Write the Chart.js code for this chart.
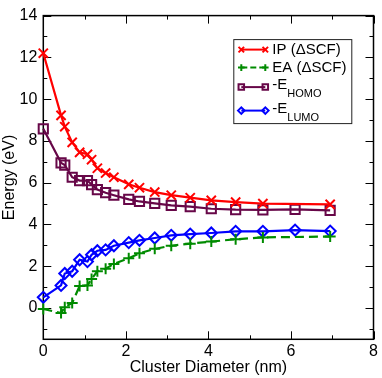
<!DOCTYPE html>
<html>
<head>
<meta charset="utf-8">
<script src="https://cdn.jsdelivr.net/npm/chart.js@4"></script>
<style>
  html, body { margin: 0; padding: 0; background: #fff; }
  #wrap { width: 382px; height: 378px; }
</style>
</head>
<body>
<div id="wrap"><canvas id="energyChart" width="382" height="378"></canvas></div>
<script>
// cluster diameters (nm) for the delta-SCF series
const diameters = [0, 0.43, 0.52, 0.70, 0.88, 1.07, 1.17, 1.31, 1.51, 1.71, 2.07, 2.33, 2.70, 3.10, 3.56, 4.07, 4.66, 5.32, 6.95];
// orbital series have one extra cluster at 6.1 nm
const diametersOrb = [0, 0.43, 0.52, 0.70, 0.88, 1.07, 1.17, 1.31, 1.51, 1.71, 2.07, 2.33, 2.70, 3.10, 3.56, 4.07, 4.66, 5.32, 6.10, 6.95];

const ipVals   = [12.2, 9.22, 8.68, 7.93, 7.45, 7.36, 7.10, 6.69, 6.46, 6.26, 5.92, 5.76, 5.55, 5.40, 5.28, 5.15, 5.07, 5.00, 4.96];
const eaVals   = [-0.05, -0.24, 0.04, 0.24, 1.05, 1.08, 1.39, 1.76, 1.88, 2.11, 2.38, 2.62, 2.83, 2.98, 3.08, 3.18, 3.29, 3.38, 3.42];
const homoVals = [8.58, 6.95, 6.84, 6.26, 6.10, 6.10, 5.91, 5.67, 5.52, 5.40, 5.20, 5.10, 5.01, 4.91, 4.85, 4.75, 4.71, 4.70, 4.72, 4.67];
const lumoVals = [0.51, 1.08, 1.65, 1.76, 2.31, 2.22, 2.55, 2.74, 2.78, 2.98, 3.13, 3.24, 3.35, 3.48, 3.54, 3.59, 3.67, 3.67, 3.73, 3.68];

const xTicks = [0, 2, 4, 6, 8];
const yTicks = [0, 2, 4, 6, 8, 10, 12, 14];

const RED = '#ff0000', GREEN = '#008b00', MAROON = '#670748', BLUE = '#0000ff';
const FONT = '"Liberation Sans", Arial, sans-serif';

function pts(xs, ys) {
    return xs.map((x, i) => ({ x: x, y: ys[i] }));
}

const series = [
    { label: 'IP (\u0394SCF)', sub: '', color: RED, style: 'crossRot', radius: 6.5, dash: [], data: pts(diameters, ipVals) },
    { label: 'EA (\u0394SCF)', sub: '', color: GREEN, style: 'cross', radius: 5.5, dash: [9, 5], data: pts(diameters, eaVals) },
    { label: '-E', sub: 'HOMO', color: MAROON, style: 'rect', radius: 6.5, dash: [], data: pts(diametersOrb, homoVals) },
    { label: '-E', sub: 'LUMO', color: BLUE, style: 'rectRot', radius: 5.5, dash: [], data: pts(diametersOrb, lumoVals) }
];

// frame with inward ticks on all four sides
const framePlugin = {
    id: 'frame',
    beforeDatasetsDraw(chart) {
        const { ctx, chartArea: a, scales } = chart;
        ctx.save();
        ctx.strokeStyle = '#000';
        ctx.lineWidth = 1;
        for (let v = 0; v <= 8; v += 1) {
            const px = Math.round(scales.x.getPixelForValue(v)) + 0.5;
            const len = v % 2 === 0 ? 8 : 4;
            ctx.beginPath();
            ctx.moveTo(px, a.bottom); ctx.lineTo(px, a.bottom - len);
            ctx.moveTo(px, a.top); ctx.lineTo(px, a.top + len);
            ctx.stroke();
        }
        for (let v = -1; v <= 14; v += 1) {
            const py = Math.round(scales.y.getPixelForValue(v)) + 0.5;
            const len = v % 2 === 0 ? 8 : 4;
            ctx.beginPath();
            ctx.moveTo(a.left, py); ctx.lineTo(a.left + len, py);
            ctx.moveTo(a.right, py); ctx.lineTo(a.right - len, py);
            ctx.stroke();
        }
        ctx.lineWidth = 1.5;
        ctx.strokeRect(a.left, a.top, a.right - a.left, a.bottom - a.top);
        ctx.restore();
    }
};

// legend box with line samples and subscripts
const legendPlugin = {
    id: 'boxLegend',
    afterDraw(chart) {
        const { ctx, chartArea: a } = chart;
        const bx = a.left + 190, by = a.top + 23.5, bw = 118, bh = 84;
        ctx.save();
        ctx.fillStyle = '#fff';
        ctx.fillRect(bx, by, bw, bh);
        ctx.strokeStyle = '#222';
        ctx.lineWidth = 1;
        ctx.strokeRect(bx + 0.5, by + 0.5, bw, bh);
        const rows = [10.5, 28.5, 48, 71.5];
        series.forEach((s, i) => {
            const y = by + rows[i];
            const x0 = bx + 8, x1 = bx + 32;
            ctx.strokeStyle = s.color;
            ctx.lineWidth = 2;
            ctx.setLineDash(s.dash.length ? [6, 3] : []);
            ctx.beginPath(); ctx.moveTo(x0, y); ctx.lineTo(x1, y); ctx.stroke();
            ctx.setLineDash([]);
            const opts = { pointStyle: s.style, radius: s.radius * 0.6, borderWidth: 2 };
            ctx.fillStyle = 'rgba(0,0,0,0)';
            [x0, x1].forEach(px => Chart.helpers.drawPoint(ctx, opts, px, y));
            ctx.fillStyle = '#000';
            ctx.textBaseline = 'middle';
            ctx.font = '15px ' + FONT;
            ctx.fillText(s.label, bx + 39, y + (s.sub ? -2 : 0));
            if (s.sub) {
                const w = ctx.measureText(s.label).width;
                ctx.font = '11px ' + FONT;
                ctx.fillText(s.sub, bx + 39 + w, y + 7);
            }
        });
        ctx.restore();
    }
};

new Chart(document.getElementById('energyChart'), {
    type: 'line',
    data: {
        datasets: series.map(s => ({
            label: s.label + s.sub,
            data: s.data,
            borderColor: s.color,
            backgroundColor: 'rgba(0,0,0,0)',
            borderWidth: 2.2,
            borderDash: s.dash,
            pointStyle: s.style,
            pointRadius: s.radius,
            pointBorderWidth: 2,
            pointBorderColor: s.color,
            pointBackgroundColor: 'rgba(0,0,0,0)',
            tension: 0,
            clip: false
        }))
    },
    options: {
        responsive: false,
        animation: false,
        layout: { padding: { top: 6.5, right: 6, left: 0, bottom: 0 } },
        plugins: { legend: { display: false }, tooltip: { enabled: false } },
        scales: {
            x: {
                type: 'linear', min: 0, max: 8,
                grid: { display: false, drawTicks: false },
                border: { display: false },
                afterBuildTicks: s => { s.ticks = xTicks.map(v => ({ value: v })); },
                afterFit: s => { s.height = 38.7; },
                ticks: { color: '#000', padding: 3, font: { family: FONT, size: 16 }, maxRotation: 0 },
                title: { display: true, text: 'Cluster Diameter (nm)', color: '#000', padding: { top: 0, bottom: 1 }, font: { family: FONT, size: 16 } }
            },
            y: {
                type: 'linear', min: -1.5, max: 14,
                grid: { display: false, drawTicks: false },
                border: { display: false },
                afterBuildTicks: s => { s.ticks = yTicks.map(v => ({ value: v })); },
                afterFit: s => { s.width = 43.3; },
                ticks: { color: '#000', padding: 6, font: { family: FONT, size: 16 } },
                title: { display: true, text: 'Energy (eV)', color: '#000', padding: { top: 0, bottom: 0 }, font: { family: FONT, size: 16 } }
            }
        }
    },
    plugins: [framePlugin, legendPlugin]
});
</script>
</body>
</html>
